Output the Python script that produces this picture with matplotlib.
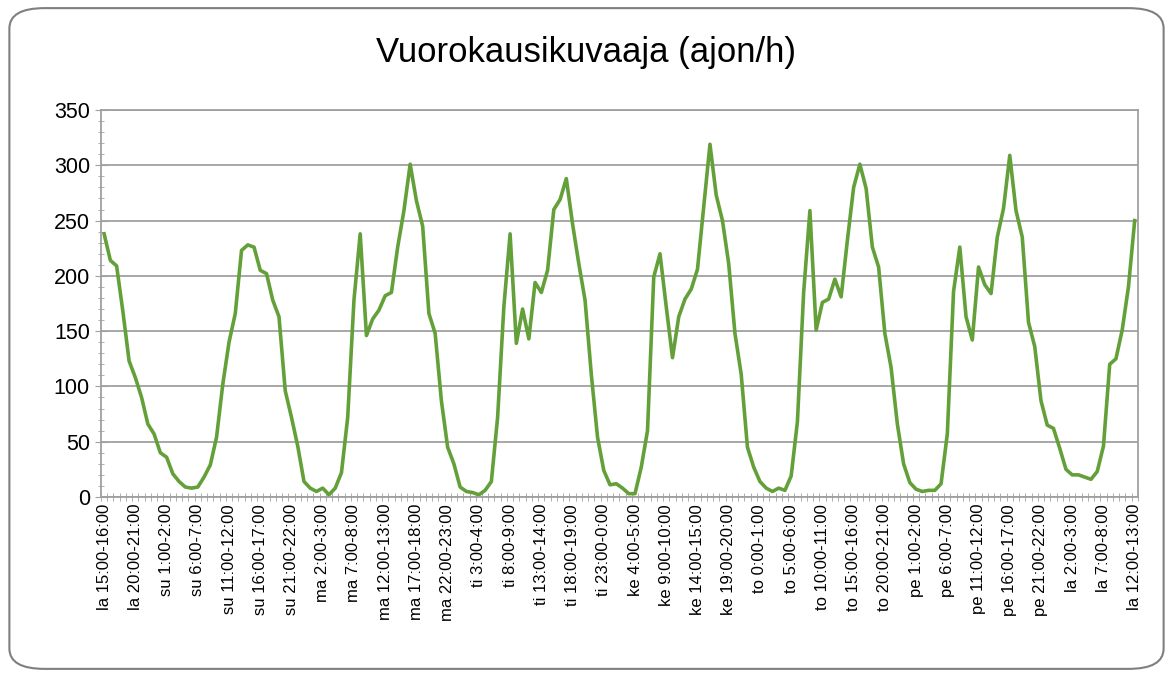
import matplotlib.pyplot as plt
from matplotlib.patches import FancyBboxPatch
from matplotlib.ticker import MultipleLocator

plt.rcParams['font.family'] = ['Liberation Sans', 'DejaVu Sans']

# liikennemäärä tunneittain, la 15:00-16:00 ... la 12:00-13:00 (ajon/h)
ajoneuvot = [
    238, 214, 209, 168, 123, 108, 90, 66, 57, 40,
    36, 21, 14, 9, 8, 9, 18, 29, 54, 102,
    140, 166, 223, 228, 226, 205, 202, 178, 163, 96,
    72, 46, 14, 8, 5, 8, 2, 8, 22, 72,
    178, 238, 146, 161, 169, 182, 185, 226, 259, 301,
    268, 245, 166, 148, 87, 45, 30, 9, 5, 4,
    2, 6, 14, 72, 172, 238, 139, 170, 143, 194,
    185, 205, 260, 269, 288, 247, 211, 178, 111, 54,
    24, 11, 12, 8, 3, 3, 27, 60, 199, 220,
    172, 126, 163, 179, 188, 206, 262, 319, 273, 250,
    211, 148, 111, 45, 27, 14, 8, 5, 8, 6,
    19, 68, 185, 259, 151, 176, 179, 197, 181, 232,
    280, 301, 279, 226, 208, 148, 117, 66, 30, 13,
    7, 5, 6, 6, 12, 57, 186, 226, 163, 142,
    208, 192, 184, 235, 261, 309, 259, 235, 158, 136,
    87, 65, 62, 44, 25, 20, 20, 18, 16, 23,
    46, 120, 125, 151, 190, 250,
]

# joka viides tunti näytetään akselilla
tunnit = [
    'la 15:00-16:00', 'la 20:00-21:00', 'su 1:00-2:00', 'su 6:00-7:00',
    'su 11:00-12:00', 'su 16:00-17:00', 'su 21:00-22:00', 'ma 2:00-3:00',
    'ma 7:00-8:00', 'ma 12:00-13:00', 'ma 17:00-18:00', 'ma 22:00-23:00',
    'ti 3:00-4:00', 'ti 8:00-9:00', 'ti 13:00-14:00', 'ti 18:00-19:00',
    'ti 23:00-0:00', 'ke 4:00-5:00', 'ke 9:00-10:00', 'ke 14:00-15:00',
    'ke 19:00-20:00', 'to 0:00-1:00', 'to 5:00-6:00', 'to 10:00-11:00',
    'to 15:00-16:00', 'to 20:00-21:00', 'pe 1:00-2:00', 'pe 6:00-7:00',
    'pe 11:00-12:00', 'pe 16:00-17:00', 'pe 21:00-22:00', 'la 2:00-3:00',
    'la 7:00-8:00', 'la 12:00-13:00',
]

fig = plt.figure(figsize=(11.73, 6.77), dpi=100)
ax = fig.add_axes([0.0861, 0.2659, 0.8839, 0.5716])

x = range(len(ajoneuvot))
ax.plot(x, ajoneuvot, color='#64a03a', linewidth=2.6, solid_joinstyle='round')

ax.set_xlim(-0.5, len(ajoneuvot) - 0.5)
ax.set_ylim(0, 350)
ax.yaxis.set_major_locator(MultipleLocator(50))
ax.yaxis.set_minor_locator(MultipleLocator(10))
ax.set_xticks(range(0, len(ajoneuvot), 5))
ax.set_xticklabels(tunnit, rotation=90)
ax.set_xticks([i - 0.5 for i in range(len(ajoneuvot) + 1)], minor=True)

ax.grid(axis='y', color='#a0a0a0', linewidth=1.3)
ax.set_axisbelow(True)
for s in ax.spines.values():
    s.set_color('#a0a0a0')
    s.set_linewidth(1.3)

ax.tick_params(axis='y', which='both', direction='inout', color='#a0a0a0',
               labelsize=15.5, pad=4)
ax.tick_params(axis='y', which='major', length=8)
ax.tick_params(axis='y', which='minor', length=5)
ax.tick_params(axis='x', which='both', direction='inout', color='#a0a0a0',
               length=6, labelsize=12)
ax.tick_params(axis='x', which='major', length=0, pad=5)

fig.suptitle('Vuorokausikuvaaja (ajon/h)', x=0.5, y=0.947, fontsize=25)

kehys = FancyBboxPatch((0.008, 0.012), 0.984, 0.976,
                       boxstyle='round,pad=0,rounding_size=0.03',
                       transform=fig.transFigure, facecolor='none',
                       edgecolor='#7f7f7f', linewidth=1.5)
fig.patches.append(kehys)

plt.savefig('out.png', dpi=100)
